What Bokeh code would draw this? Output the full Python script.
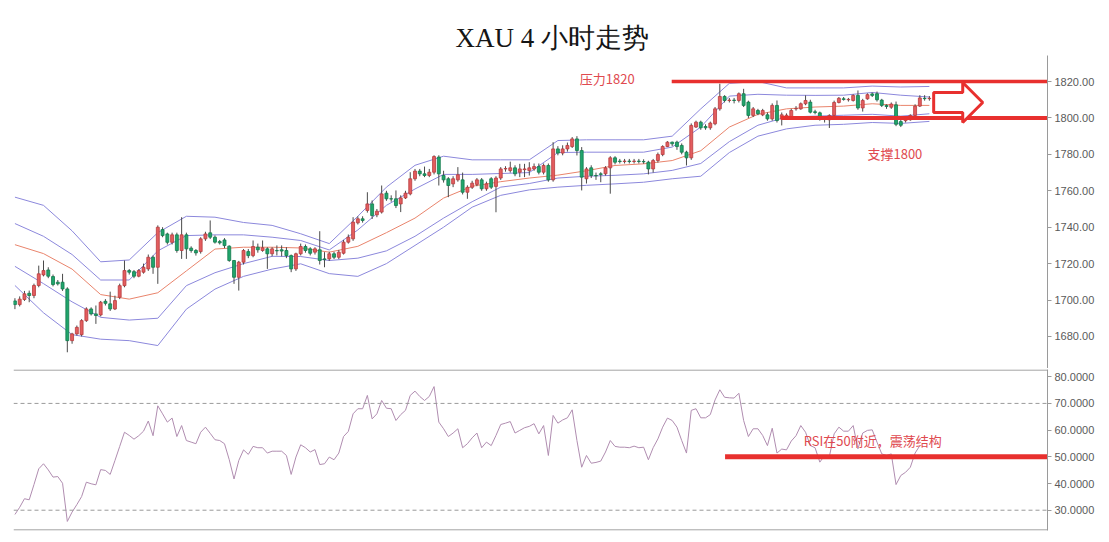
from bokeh.plotting import figure
from bokeh.models import Range1d, FixedTicker, PrintfTickFormatter, Span, Label, ColumnDataSource
from bokeh.layouts import column
from bokeh.embed import file_html
from bokeh.resources import INLINE

# ---------------- data ----------------
opens = [1699.5,1697.5,1700.3,1703.7,1702.5,1708,1713.8,1716.5,1712.9,1709.8,
1709.8,1706.1,1677.7,1681.4,1681,1688.7,1695.1,1692.4,1691.8,1699.3,
1697.9,1695.1,1701.5,1707.9,1716.2,1715.6,1713.1,1715.3,1717.1,1723.5,
1718,1738.7,1736.3,1731.7,1735.8,1727.2,1735.8,1728.5,1727.2,1726.6,
1733.6,1736.9,1734.5,1732.1,1733,1729.6,1721.7,1712.5,1720.8,1726.6,
1724.4,1729,1727.2,1728.1,1725.4,1727.2,1727.6,1727.2,1724.4,1717.1,
1725.4,1729.4,1728.1,1726.3,1727.6,1722.6,1722.6,1725.4,1723.5,1725.7,
1731.8,1733.6,1742.4,1744.6,1749.2,1752.8,1746.8,1748.3,1758.7,1755.6,
1755.6,1752.8,1756.1,1758.3,1766.6,1770.8,1769.3,1768.4,1770.2,1778.5,
1768.4,1766.6,1763.8,1766,1766,1759.2,1761.9,1763.5,1766,1761.1,
1766.6,1762.4,1767,1772,1771.1,1772.6,1770.2,1771.6,1771.1,1772,
1773.3,1770.2,1773.9,1766,1783,1780.7,1783,1784.3,1788.5,1782.1,
1766.6,1772.6,1768.4,1769.3,1769.3,1772.6,1778.1,1776.3,1776.1,1776.3,
1776.1,1776.3,1776.1,1775.7,1772,1776.6,1779.9,1784.3,1786.7,1786.7,
1784.9,1781.2,1778.1,1795,1797.7,1795.3,1794.6,1796.8,1805,1811.8,
1809.6,1809.8,1809.6,1813.3,1808.7,1801.4,1804.1,1801.7,1801.7,1799.5,
1806.9,1799.5,1800.5,1799.9,1805,1805,1807.8,1808.7,1803.4,1802.8,
1799.5,1799,1801.4,1808.5,1810.5,1810,1809.6,1812.4,1805.5,1810.5,
1813.2,1813.3,1809.8,1806.9,1805.9,1807.2,1798,1798.5,1799,1801.4,
1806.5,1810.8,1810.6]

highs = [1701,1702,1705,1705.2,1709,1718.9,1721.7,1718,1714,1711,
1714.4,1707,1682,1686,1689.5,1696,1696,1697,1699.5,1700.5,
1704.6,1702.4,1709,1721.7,1717,1716.5,1717,1720,1725,1724.5,
1741,1740,1737,1737,1737,1745.5,1737,1729.5,1728,1734.5,
1737.5,1743.7,1735.5,1733,1734,1730,1722,1721.5,1728,1728,
1732.7,1731,1732.7,1729,1729,1730,1730,1729,1725,1726,
1731,1730.5,1729,1729,1737.8,1726.3,1726.5,1726.5,1727.5,1733,
1736,1745.5,1746,1746,1759.2,1754.7,1750,1762.9,1760,1757.5,
1760.2,1757.5,1760,1770.2,1772,1772,1773.3,1772,1779.5,1779.5,
1771,1767.5,1768,1773,1770,1763,1765.5,1767,1767,1765,
1767.5,1768,1773,1773.5,1776,1774,1774.8,1774.8,1775.7,1775,
1775,1775,1775,1786.7,1784.5,1785,1786.5,1789.5,1790,1784,
1773,1774,1770,1770.2,1773.5,1779,1779,1777.5,1777.5,1777.5,
1777.5,1777.5,1777.3,1776.5,1777.5,1781,1785,1787.3,1787,1787.5,
1786,1782,1797,1798.5,1798.5,1796.5,1798,1806,1818.8,1812.5,
1811,1811,1814,1816,1809.5,1806,1805,1805,1803,1808,
1809.6,1803,1802.5,1805,1806.5,1808.5,1812.4,1810,1804.5,1803.5,
1801,1802,1809.5,1811.5,1811.5,1811,1813,1815.1,1810.5,1813.5,
1814,1814.5,1810.5,1807.5,1808.5,1809,1799,1800.5,1802,1807.5,
1812.5,1812.5,1812]

lows = [1695,1696.5,1699.5,1698.8,1701,1707,1713,1712,1707.5,1708,
1705,1671.3,1676,1680.5,1680,1688,1691.5,1686.9,1691,1697,
1694,1694.5,1700.5,1707,1714,1712,1712.5,1714.5,1716,1714.4,
1708.9,1734.5,1730.5,1730.5,1726,1722.6,1722.6,1726,1724.4,1725.5,
1732.5,1733.5,1731,1730.5,1728.5,1721,1708.9,1705.2,1719.5,1723,
1723.5,1726,1726.5,1717.1,1724,1724.5,1724,1723,1715.3,1716,
1724.5,1726,1724.5,1725,1719.5,1718,1721.5,1722.5,1722.5,1725,
1731,1732.5,1741.5,1742.5,1748,1744.5,1745.5,1747.5,1754.5,1754,
1750.5,1748.3,1755.5,1757.5,1765.5,1768,1767.5,1767.5,1769,1762.9,
1764.5,1756.5,1762,1765,1758,1755.6,1761,1762.5,1760,1760,
1761,1748.2,1766,1770.5,1770,1768,1767.5,1767.5,1768.4,1771,
1769,1769,1765,1765,1779.5,1779.5,1781.5,1783.5,1779.4,1760.2,
1764,1767,1766,1764.7,1768.4,1758.4,1774.5,1775,1775,1775,
1775,1775,1774.8,1769,1770,1775.5,1779,1784,1784.5,1782.5,
1780,1773.9,1777,1794.5,1793.5,1793.5,1793.5,1796,1804,1808.5,
1808.5,1808,1808.5,1806,1800,1800.5,1801.5,1801,1798.5,1798.5,
1797.5,1795.9,1799.5,1799,1804,1804.5,1807,1802.5,1802,1798.5,
1797.5,1794.5,1801,1808,1809.5,1809,1809,1804.5,1803.5,1810,
1811.5,1809,1806,1805,1805,1795.5,1795,1797.5,1798.5,1800.5,
1806,1809.5,1809.5]

closes = [1697.5,1700.5,1703.4,1702.5,1708,1714.4,1716.2,1713.1,1708.5,1708.9,
1706.1,1677.7,1681.4,1685,1688.7,1695.1,1692.4,1691.5,1698.8,1698.2,
1695.1,1699.7,1707.9,1716.2,1715.3,1713.1,1716.2,1718,1723.5,1718,
1740,1735.4,1731.7,1735.8,1727.2,1735.8,1728.1,1727.2,1725.9,1733.6,
1736.3,1734.5,1731.8,1731.4,1729.9,1721.7,1712.5,1720.8,1727.2,1724.4,
1729.4,1727.6,1728.7,1725.4,1728.1,1727,1726.9,1724.4,1717.1,1725.4,
1729.4,1727.2,1725.7,1728.1,1721.7,1722.2,1725.4,1723.5,1726.3,1731.8,
1734.5,1742.8,1744.6,1743.7,1752.8,1746.4,1748.8,1758.3,1755.6,1755.5,
1751.9,1756.1,1758.7,1766.6,1770.8,1769.3,1768.4,1770.2,1778.8,1769.3,
1766,1762.9,1766.6,1768.8,1759.2,1761.9,1764.2,1766,1761.1,1763.8,
1762,1767,1772,1772.2,1772.6,1769.3,1772,1772,1772.6,1773.3,
1770.2,1773.9,1766,1783,1780.7,1783,1784.9,1788.5,1782.1,1767.5,
1772,1768.4,1768.2,1769,1772.6,1778.1,1775.7,1776.1,1776.3,1776.1,
1776.3,1776.1,1775.9,1772,1776.6,1779.9,1784.3,1786.7,1785.8,1784.3,
1781.2,1778.1,1795.9,1797.7,1794.6,1794.6,1797.2,1805,1811.8,1809.6,
1809.8,1809.6,1813.3,1806.9,1801.4,1805,1802.3,1804.1,1799.5,1806.9,
1798.6,1801.7,1801.5,1804.1,1805.2,1807.8,1809.6,1803.2,1803,1800,
1800,1801.4,1808.5,1810.8,1810.2,1810.2,1812.4,1805.5,1809.6,1812.8,
1812.4,1810,1806.9,1806.3,1807.6,1796.5,1796,1799,1801.4,1806.5,
1811,1810.6,1810.8]

# Bollinger-style channel, read at every 6th candle
band_idx = [0,6,12,18,24,30,36,42,48,54,60,66,72,78,84,90,96,102,108,114,120,126,132,138,144,150,156,162,168,174,180,186,192]
band_outer_up = [1756.5,1752,1738,1721,1722,1737,1746,1745.5,1742.6,1741,1736.4,1731,1746,1762,1774,1779,1777,1777,1777,1787.6,1788,1788,1788,1790,1805,1819,1820,1816.5,1816.5,1816.5,1817.5,1817,1817.3]
band_inner_up = [1742,1735,1725,1711,1711,1727,1735.4,1735.8,1735.8,1734.5,1732.7,1727.5,1738.5,1752,1761,1769,1769,1769.5,1770,1781,1781.2,1781.2,1781.2,1784,1795,1812,1813,1812.5,1812.4,1812.5,1814,1812.5,1811.5]
band_mid = [1730.4,1725.5,1717,1703,1700.5,1704,1716,1728,1729,1729,1728.6,1726.3,1729.5,1737,1745,1756,1762.5,1765,1767,1768.6,1771,1773.9,1774.8,1776.6,1782,1795,1802,1805,1806,1806.5,1807.8,1806.9,1806.9]
band_inner_lo = [1718.5,1709,1699,1690.5,1689,1690,1707.9,1715,1720,1724,1723.9,1721.7,1723,1727,1735,1745,1754,1762,1764,1767,1768,1768.5,1769.3,1771.2,1775,1787,1796,1800.5,1801,1801.5,1802,1801,1802.3]
band_outer_lo = [1708,1693,1681,1678.5,1677.7,1675,1695,1706,1713,1717,1719.9,1714.5,1713,1720,1730,1740,1751,1757.5,1760.5,1762,1763,1763.8,1764.7,1766.6,1768,1781,1790,1794,1796,1796.5,1797.5,1797,1798.1]

rsi = [28.4,31.1,34.3,33.9,39.6,45.5,47.4,45.1,42.4,42.6,
40.1,25.8,29.3,32.1,35.1,40.5,39.9,39.5,45.2,44.9,
43.4,48.6,53.9,59.2,58.0,56.6,57.9,59.6,63.4,57.9,
69.1,66.1,63.0,64.5,57.6,61.7,56.1,55.5,54.9,59.2,
61.1,58.8,56.4,56.1,54.9,48.9,41.7,48.6,52.6,50.9,
53.9,53.4,53.4,51.4,52.1,52.1,52.1,50.5,43.4,49.9,
54.5,53.4,51.8,52.7,47.1,47.4,49.9,48.9,51.4,57.6,
59.5,66.1,68.0,68.0,73.0,64.2,66.1,71.1,68.2,68.0,
63.6,65.8,67.4,73.0,74.6,72.6,71.1,72.6,76.3,63.0,
60.5,57.6,58.9,60.5,53.4,54.9,57.1,58.9,53.4,55.5,
54.2,58.0,62.1,62.6,63.2,58.9,59.9,60.9,61.4,62.4,
58.6,61.7,50.5,65.5,62.6,63.8,64.6,67.6,56.1,46.1,
50.5,47.6,47.9,48.4,51.8,56.1,53.9,53.6,53.6,53.4,
54.0,53.4,53.6,48.9,53.4,56.7,61.1,64.5,63.6,61.1,
56.1,51.4,67.4,68.0,64.6,64.6,65.8,71.3,75.1,72.3,
72.1,72.0,73.8,63.6,57.6,60.5,60.5,58.0,54.2,60.7,
51.4,52.9,52.6,55.9,57.9,61.7,59.2,54.2,53.4,48.0,
50.5,50.1,58.6,61.1,59.6,59.6,61.7,53.0,58.9,59.9,
60.1,55.5,51.1,50.5,51.1,39.6,43.0,44.2,46.1,51.4,
54.2]

price_ticks = [1680, 1700, 1720, 1740, 1760, 1780, 1800, 1820]
rsi_ticks = [30, 40, 50, 60, 70, 80]
resistance = 1820
support = 1800
rsi_mid = 50
rsi_levels = [70, 30]

# ---------------- styles ----------------
RED = "#e35d5f"
RED_EDGE = "#b83c3e"
GREEN = "#20a56c"
GREEN_EDGE = "#137a4c"
WICK = "#4a4a4a"
BAND = "#8c88dc"
MID = "#e9846c"
MARK = "#e8302e"
TXT = "#e04a4f"
AXIS = "#9a9a9a"
CJK = "Noto Sans CJK SC"

n = len(closes)
xs = list(range(n))
isup = [c >= o for o, c in zip(opens, closes)]
src = ColumnDataSource(dict(
    x=xs, high=highs, low=lows,
    top=[max(o, c) for o, c in zip(opens, closes)],
    bottom=[min(o, c) for o, c in zip(opens, closes)],
    fill=[RED if u else GREEN for u in isup],
    edge=[RED_EDGE if u else GREEN_EDGE for u in isup],
))

xr = Range1d(-0.3, 216.8)
RB = 55
LB = 13
W = 1047 + RB

p = figure(width=W, height=368, x_range=xr, y_range=Range1d(1662.4, 1834.3),
           output_backend="svg", toolbar_location=None, y_axis_location="right",
           min_border_left=LB, min_border_right=RB, min_border_top=55, min_border_bottom=0,
           title="XAU 4 小时走势")
p.title.align = "left"
p.title.offset = 442
p.title.standoff = 6
p.title.text_font = "Liberation Serif"
p.title.text_font_size = "27px"
p.title.text_font_style = "normal"
p.title.text_color = "#151515"

r = figure(width=W, height=166, x_range=xr, y_range=Range1d(22.4, 82.7),
           output_backend="svg", toolbar_location=None, y_axis_location="right",
           min_border_left=LB, min_border_right=RB, min_border_top=1, min_border_bottom=4)

for fig, ticks, fmt in ((p, price_ticks, "%.2f"), (r, rsi_ticks, "%.4f")):
    fig.xaxis.visible = False
    fig.grid.visible = False
    fig.outline_line_color = None
    fig.background_fill_color = "white"
    fig.border_fill_color = "white"
    ax = fig.yaxis[0]
    ax.ticker = FixedTicker(ticks=ticks)
    ax.formatter = PrintfTickFormatter(format=fmt)
    ax.axis_line_color = AXIS
    ax.major_tick_line_color = AXIS
    ax.major_tick_out = 4
    ax.major_tick_in = 0
    ax.minor_tick_line_color = None
    ax.major_label_text_font = "Liberation Sans"
    ax.major_label_text_font_size = "11px"
    ax.major_label_text_color = "#5a5a5a"
    ax.major_label_standoff = 3

# bands
for ys, col in ((band_outer_up, BAND), (band_inner_up, BAND), (band_inner_lo, BAND),
                (band_outer_lo, BAND), (band_mid, MID)):
    p.line(band_idx, ys, line_color=col, line_width=1)

# candles
p.segment(x0="x", y0="high", x1="x", y1="low", source=src, line_color=WICK, line_width=1)
p.vbar(x="x", width=0.62, top="top", bottom="bottom", source=src,
       fill_color="fill", line_color="edge", line_width=0.8)

# resistance / support marks
p.segment(x0=[137.9], y0=[resistance], x1=[xr.end], y1=[resistance], line_color=MARK, line_width=3.5)
p.segment(x0=[160.8], y0=[support], x1=[xr.end], y1=[support], line_color=MARK, line_width=4)
arrow_x = [192.9, 199.0, 199.0, 203.2, 199.0, 199.0, 192.9]
arrow_y = [1814.0, 1814.0, 1819.5, 1808.5, 1797.5, 1803.0, 1803.0]
p.patch(arrow_x, arrow_y, fill_color="white", line_color=MARK, line_width=3)

p.add_layout(Label(x=118.6, y=resistance + 1.7, text="压力1820", text_font=CJK,
                   text_font_size="13px", text_color=TXT, text_baseline="middle"))
p.add_layout(Label(x=179.0, y=1780.5, text="支撑1800", text_font=CJK,
                   text_font_size="13px", text_color=TXT, text_baseline="middle"))

# RSI panel
r.add_layout(Span(location=82.5, dimension="width", line_color="#8a8a8a", line_width=1))
r.add_layout(Span(location=22.6, dimension="width", line_color="#8a8a8a", line_width=1))
for lv in rsi_levels:
    r.add_layout(Span(location=lv, dimension="width", line_color="#9a9a9a",
                      line_width=1, line_dash="4 3"))
r.line(list(range(len(rsi))), rsi, line_color="#b08db0", line_width=1)
r.segment(x0=[149.1], y0=[rsi_mid], x1=[xr.end], y1=[rsi_mid], line_color=MARK, line_width=5)
r.add_layout(Label(x=165.6, y=56.1, text="RSI在50附近，震荡结构", text_font=CJK,
                   text_font_size="13px", text_color=TXT, text_baseline="middle"))

layout = column(p, r, spacing=0)
open("out.html", "w").write(file_html(layout, INLINE))
